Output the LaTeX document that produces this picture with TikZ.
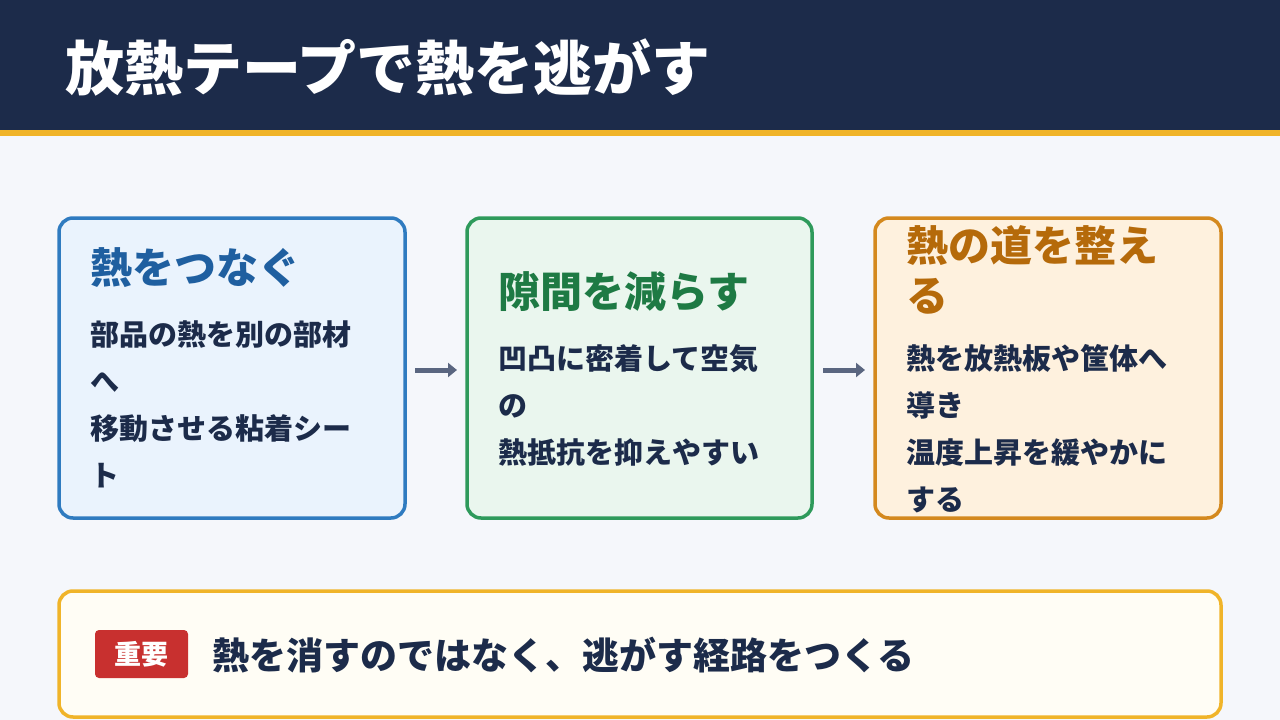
\documentclass[tikz,border=0pt]{standalone}
\usepackage{fontspec}
\setmainfont{Noto Sans CJK JP}
\usetikzlibrary{arrows.meta}
\definecolor{navy}{HTML}{1C2B4A}
\definecolor{gold}{HTML}{F0B429}
\definecolor{bg}{HTML}{F5F7FB}
\definecolor{arrc}{HTML}{5A6680}
\begin{document}
\begin{tikzpicture}[x=1pt,y=-1pt,
 box/.style={rounded corners=14pt,line width=3.5pt},
 ttl/.style={anchor=west,font=\bfseries\fontsize{42}{50}\selectfont,align=left,inner sep=0},
 body/.style={anchor=north west,font=\bfseries\fontsize{29}{47}\selectfont,text=navy,align=left,inner sep=0},
 arr/.style={-{Triangle[length=9pt,width=14pt]},line width=5pt,color=arrc}]
\useasboundingbox (0,0) rectangle (1280,720);
\fill[bg] (0,0) rectangle (1280,720);
\fill[navy] (0,0) rectangle (1280,130);
\fill[gold] (0,130) rectangle (1280,136);
\node[anchor=west,text=white,font=\bfseries\fontsize{59}{66}\selectfont,inner sep=0] (title) at (65,68) {放熱テープで熱を逃がす};
\draw[box,draw={rgb,255:red,47;green,123;blue,192},fill={rgb,255:red,234;green,243;blue,253}] (59,218) rectangle (405,518);
\draw[box,draw={rgb,255:red,46;green,154;blue,91},fill={rgb,255:red,234;green,246;blue,238}] (467,218) rectangle (812,518);
\draw[box,draw={rgb,255:red,212;green,137;blue,30},fill={rgb,255:red,254;green,241;blue,222}] (875,218) rectangle (1221,518);
\node[ttl,text={rgb,255:red,31;green,95;blue,160}] (t1) at (90,268) {熱をつなぐ};
\node[body] (b1) at (90,320) {部品の熱を別の部材\\へ\\移動させる粘着シー\\ト};
\node[ttl,text={rgb,255:red,30;green,122;blue,68}] (t2) at (498,292) {隙間を減らす};
\node[body] (b2) at (498,344) {凹凸に密着して空気\\の\\熱抵抗を抑えやすい};
\node[ttl,text={rgb,255:red,181;green,106;blue,10}] (t3) at (906,270) {熱の道を整え\\る};
\node[body] (b3) at (906,344) {熱を放熱板や筐体へ\\導き\\温度上昇を緩やかに\\する};
\coordinate (a1s) at (415,370); \coordinate (a1e) at (457,370);
\coordinate (a2s) at (823,370); \coordinate (a2e) at (865,370);
\draw[arr] (a1s) -- (a1e);
\draw[arr] (a2s) -- (a2e);
\draw[box,draw=gold,fill={rgb,255:red,255;green,253;blue,245}] (59,591) rectangle (1221,717);
\node[fill={rgb,255:red,200;green,48;blue,47},rounded corners=4pt,text=white,font=\bfseries\fontsize{27}{30}\selectfont,minimum width=93pt,minimum height=48pt,inner sep=0] (badge) at (141.5,654) {重要};
\node[anchor=west,text=navy,font=\bfseries\fontsize{37}{44}\selectfont,inner sep=0] (msg) at (212,655) {熱を消すのではなく、逃がす経路をつくる};
\end{tikzpicture}
\end{document}
